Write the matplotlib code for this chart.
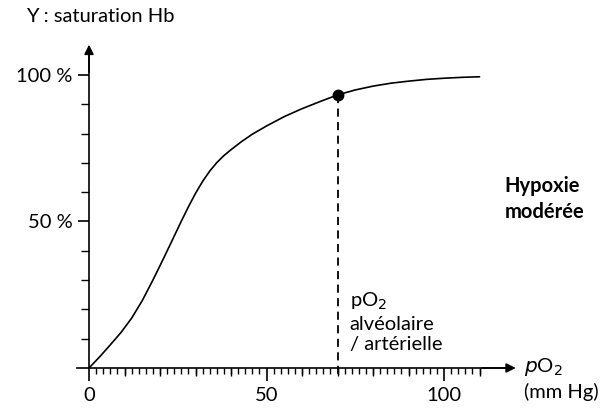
import numpy as np
import matplotlib.pyplot as plt

# Hb saturation curve
po2 = [0, 3, 6, 9, 12, 15, 18, 21, 24, 26, 28, 30, 32, 34, 36, 38, 40, 43, 46,
       50, 55, 60, 65, 70, 75, 80, 85, 90, 95, 100, 105, 110]
sat = [0, 3.8, 7.9, 12.1, 17.0, 23.0, 30.0, 37.4, 45.0, 50.1, 55.0, 59.6, 63.7,
       67.2, 70.1, 72.5, 74.5, 77.3, 79.8, 82.6, 85.8, 88.5, 90.9, 93.2, 94.9,
       96.2, 97.2, 97.9, 98.5, 98.9, 99.2, 99.4]
po2_art = 70
sat_art = 93.2

xtick_major = [0, 50, 100]
xtick_labels = ['0', '50', '100']
ytick_major = [50, 100]
ytick_labels = ['50 %', '100 %']

plt.rcParams['font.family'] = ['Lato', 'DejaVu Sans']
fs = 14.5

fig = plt.figure(figsize=(6.02, 4.11), dpi=100)
ax = fig.add_axes([0, 0, 1, 1])
ax.set_xlim(-25.07, 144.5)
ax.set_ylim(-14.68, 125.6)
ax.patch.set_alpha(0)

for s in ['top', 'right']:
    ax.spines[s].set_visible(False)
ax.spines['left'].set_position(('data', 0))
ax.spines['bottom'].set_position(('data', 0))
ax.spines['left'].set_bounds(0, 108)
ax.spines['bottom'].set_bounds(-3.4, 118)
for s in ['left', 'bottom']:
    ax.spines[s].set_linewidth(1.2)

# arrow heads
ax.annotate('', xy=(121, 0), xytext=(110, 0),
            arrowprops=dict(arrowstyle='-|>', lw=1.2, color='k', mutation_scale=14))
ax.annotate('', xy=(0, 111.3), xytext=(0, 100),
            arrowprops=dict(arrowstyle='-|>', lw=1.2, color='k', mutation_scale=14))

ax.set_xticks(xtick_major)
ax.set_xticklabels(xtick_labels)
ax.set_xticks(np.arange(2, 111, 2), minor=True)
ax.tick_params(axis='x', which='major', length=9, width=1.2, pad=5, labelsize=fs)
ax.tick_params(axis='x', which='minor', length=4.5, width=1.0)

ax.set_yticks(ytick_major)
ax.set_yticklabels(ytick_labels)
ax.set_yticks(np.arange(10, 101, 10), minor=True)
ax.tick_params(axis='y', which='major', length=8, width=1.2, pad=4, labelsize=fs)
ax.tick_params(axis='y', which='minor', length=5.5, width=1.0)

# medium ticks every 10 on x
loc = (0 - ax.get_ylim()[0]) / (ax.get_ylim()[1] - ax.get_ylim()[0])
sec = ax.secondary_xaxis(loc)
sec.set_xticks([10, 20, 30, 40, 60, 70, 80, 90, 110])
sec.set_xticklabels([])
sec.tick_params(axis='x', direction='out', length=6, width=1.0)
sec.spines['bottom'].set_visible(False)
sec.spines['top'].set_visible(False)
sec.xaxis.set_ticks_position('bottom')

ax.plot(po2, sat, color='k', lw=1.2, solid_joinstyle='round', solid_capstyle='round')
ax.plot([po2_art, po2_art], [sat_art, -3], color='k', lw=1.3, linestyle=(0, (4.5, 3)))
ax.plot(po2_art, sat_art, 'o', color='k', markersize=7.5)

ax.text(3.2, 125.6 - 17 / 2.93, 'Y : saturation Hb', fontsize=fs, ha='center', va='center')
ax.text(73.4, 15.7, 'pO$_2$\nalvéolaire\n/ artérielle', fontsize=fs, ha='left', va='center',
        linespacing=1.25)
ax.text(122.4, 0.5, '$p$O$_2$', fontsize=fs, ha='left', va='center')
ax.text(122.4, -8.2, '(mm Hg)', fontsize=fs, ha='left', va='center')
ax.text(117, 57.7, 'Hypoxie\nmodérée', fontsize=fs, ha='left', va='center',
        fontweight='bold', linespacing=1.4)

fig.savefig('out.png', dpi=100)
